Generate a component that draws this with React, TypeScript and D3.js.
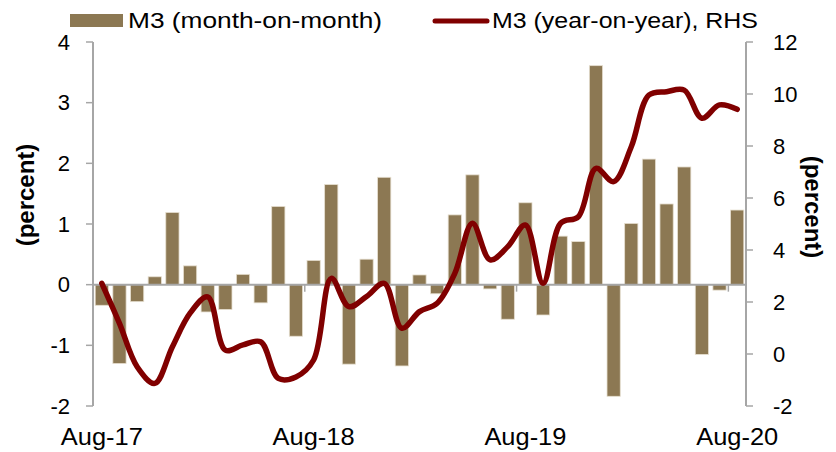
import React from "react";
import * as d3 from "d3";

const months = [
  "Aug-17","Sep-17","Oct-17","Nov-17","Dec-17","Jan-18","Feb-18","Mar-18","Apr-18","May-18","Jun-18","Jul-18",
  "Aug-18","Sep-18","Oct-18","Nov-18","Dec-18","Jan-19","Feb-19","Mar-19","Apr-19","May-19","Jun-19","Jul-19",
  "Aug-19","Sep-19","Oct-19","Nov-19","Dec-19","Jan-20","Feb-20","Mar-20","Apr-20","May-20","Jun-20","Jul-20",
  "Aug-20",
];
const momValues = [
  -0.34, -1.30, -0.28, 0.13, 1.19, 0.31, -0.45, -0.41, 0.17, -0.30, 1.29, -0.85,
  0.40, 1.65, -1.31, 0.42, 1.77, -1.34, 0.16, -0.15, 1.15, 1.81, -0.07, -0.57,
  1.35, -0.50, 0.80, 0.71, 3.61, -1.84, 1.01, 2.07, 1.33, 1.94, -1.15, -0.09,
  1.23,
];
const yoyValues = [
  2.72, 1.18, -0.49, -1.13, 0.28, 1.57, 2.2, 0.15, 0.35, 0.47, -0.94, -0.88,
  -0.23, 2.91, 1.82, 2.21, 2.72, 0.99, 1.63, 1.95, 3.1, 5.03, 3.62, 4.13,
  4.96, 2.72, 5.03, 5.28, 7.14, 6.63, 7.97, 9.96, 10.09, 10.15, 9.07, 9.58,
  9.41,
];
const leftTicks = [-2, -1, 0, 1, 2, 3, 4];
const rightTicks = [-2, 0, 2, 4, 6, 8, 10, 12];
const xLabels = ["Aug-17", "Aug-18", "Aug-19", "Aug-20"];
const seriesNames = ["M3 (month-on-month)", "M3 (year-on-year), RHS"];
const axisTitle = "(percent)";

const W = 836;
const H = 452;
const left = 93;
const right = 746;
const top = 42;
const bottom = 406;
const BAR = "#8c7853";
const LINE = "#800000";
const AXIS = "#a6a6a6";
const FONT = "'Liberation Sans', Arial, sans-serif";

export default function App() {
  const x = d3.scaleBand<string>().domain(months).range([left, right]).paddingInner(0.25).paddingOuter(0.125);
  const step = x.step();
  const yL = d3.scaleLinear().domain([-2, 4]).range([bottom, top]);
  const yR = d3.scaleLinear().domain([-2, 12]).range([bottom, top]);
  const cx = (m: string) => (x(m) as number) + x.bandwidth() / 2;
  const lineGen = d3
    .line<number>()
    .x((_, i) => cx(months[i]))
    .y((d) => yR(d))
    .curve(d3.curveCatmullRom.alpha(0.5));
  const zeroY = yL(0);
  const boundaryTicks = xLabels.slice(1).map((l) => left + months.indexOf(l) * step);

  return (
    <svg width={W} height={H} style={{ position: "absolute", left: 0, top: 0, background: "#fff" }} fontFamily={FONT}>
      {momValues.map((v, i) => (
        <rect
          key={months[i]}
          x={x(months[i])}
          y={Math.min(yL(v), zeroY)}
          width={x.bandwidth()}
          height={Math.abs(yL(v) - zeroY)}
          fill={BAR}
          stroke="#e6dfd0"
          strokeWidth={0.8}
        />
      ))}
      <line x1={left} x2={right} y1={zeroY} y2={zeroY} stroke={AXIS} strokeWidth={2} />
      {boundaryTicks.map((t, i) => (
        <line key={i} x1={t} x2={t} y1={zeroY} y2={zeroY + 7} stroke={AXIS} strokeWidth={1.5} />
      ))}
      <line x1={left} x2={left} y1={top} y2={bottom} stroke={AXIS} strokeWidth={2} />
      {leftTicks.map((t) => (
        <g key={"l" + t}>
          <line x1={left - 7} x2={left} y1={yL(t)} y2={yL(t)} stroke={AXIS} strokeWidth={1.5} />
          <text x={70} y={yL(t)} dy="0.35em" textAnchor="end" fontSize={22} fill="#000">
            {t}
          </text>
        </g>
      ))}
      <line x1={right} x2={right} y1={top} y2={bottom} stroke={AXIS} strokeWidth={2} />
      {rightTicks.map((t) => (
        <g key={"r" + t}>
          <line x1={right} x2={right + 7} y1={yR(t)} y2={yR(t)} stroke={AXIS} strokeWidth={1.5} />
          <text x={773} y={yR(t)} dy="0.35em" textAnchor="start" fontSize={22} fill="#000">
            {t}
          </text>
        </g>
      ))}
      <path d={lineGen(yoyValues) || ""} fill="none" stroke={LINE} strokeWidth={5.5} strokeLinejoin="round" strokeLinecap="round" />
      {xLabels.map((l) => (
        <text key={l} x={cx(l) - 41} y={445} fontSize={23} fill="#000" textLength={82} lengthAdjust="spacingAndGlyphs">
          {l}
        </text>
      ))}
      <text transform={`translate(34,195) rotate(-90)`} textAnchor="middle" fontSize={24} fontWeight="bold" fill="#000">
        {axisTitle}
      </text>
      <text transform={`translate(805,207) rotate(90)`} textAnchor="middle" fontSize={24} fontWeight="bold" fill="#000">
        {axisTitle}
      </text>
      <rect x={70} y={14} width={53} height={13} fill={BAR} />
      <text x={128} y={28} fontSize={22} fill="#000" textLength={254} lengthAdjust="spacingAndGlyphs">
        {seriesNames[0]}
      </text>
      <line x1={435} x2={487} y1={21} y2={21} stroke={LINE} strokeWidth={5} strokeLinecap="round" />
      <text x={492} y={28} fontSize={22} fill="#000" textLength={266} lengthAdjust="spacingAndGlyphs">
        {seriesNames[1]}
      </text>
    </svg>
  );
}
